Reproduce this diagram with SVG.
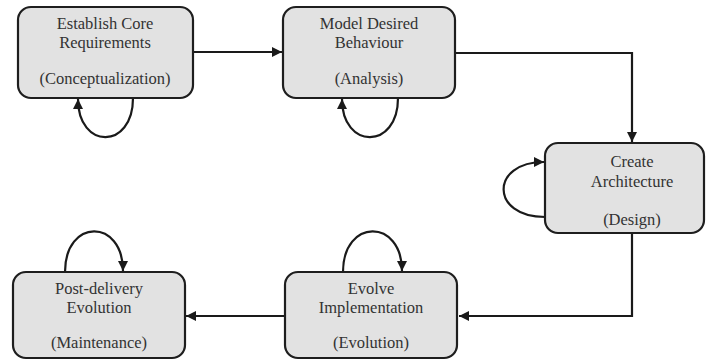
<svg xmlns="http://www.w3.org/2000/svg" width="708" height="362" viewBox="0 0 708 362">
  <style>
    .box { fill: #e2e2e2; stroke: #1e1e1e; stroke-width: 2.2; }
    .edge { fill: none; stroke: #1a1a1a; stroke-width: 2.2; }
  </style>
  <defs>
    <marker id="arrow" viewBox="0 0 10 10" refX="10" refY="5" markerUnits="userSpaceOnUse" markerWidth="11" markerHeight="10" orient="auto">
      <path d="M0,0 L10,5 L0,10 z" fill="#1a1a1a"/>
    </marker>
  </defs>
  <rect width="708" height="362" fill="#ffffff"/>

  <g id="connectors">
    <!-- main flow -->
    <path class="edge" d="M193,52 L282,52" marker-end="url(#arrow)"/>
    <path class="edge" d="M455,53 L632,53 L632,142" marker-end="url(#arrow)"/>
    <path class="edge" d="M632,233 L632,316 L459,316" marker-end="url(#arrow)"/>
    <path class="edge" d="M285,316 L186,316" marker-end="url(#arrow)"/>
    <!-- self loops -->
    <path class="edge" d="M133,98 C133,150 78,150 78,99" marker-end="url(#arrow)"/>
    <path class="edge" d="M398,98 C398,150 342,150 342,99" marker-end="url(#arrow)"/>
    <path class="edge" d="M545,217 C490,217 490,162 544,162" marker-end="url(#arrow)"/>
    <path class="edge" d="M343,272 C343,218 402,218 402,271" marker-end="url(#arrow)"/>
    <path class="edge" d="M65,272 C65,218 123,218 123,271" marker-end="url(#arrow)"/>
  </g>

  <g font-family="Liberation Serif, Tinos, Times New Roman, DejaVu Serif, serif" font-size="16.5" fill="#333333" text-anchor="middle">
    <g id="node-requirements">
      <rect class="box" x="18" y="7" width="175" height="91" rx="13"/>
      <text x="105" y="29">Establish Core</text>
      <text x="105" y="48">Requirements</text>
      <text x="105" y="84">(Conceptualization)</text>
    </g>

    <g id="node-behaviour">
      <rect class="box" x="283" y="7" width="172" height="91" rx="13"/>
      <text x="369" y="29">Model Desired</text>
      <text x="369" y="48">Behaviour</text>
      <text x="369" y="84">(Analysis)</text>
    </g>

    <g id="node-architecture">
      <rect class="box" x="545" y="143" width="159" height="90" rx="13"/>
      <text x="632" y="167">Create</text>
      <text x="632" y="187">Architecture</text>
      <text x="632" y="225">(Design)</text>
    </g>

    <g id="node-implementation">
      <rect class="box" x="285" y="272" width="172" height="86" rx="13"/>
      <text x="371" y="294">Evolve</text>
      <text x="371" y="313">Implementation</text>
      <text x="371" y="348">(Evolution)</text>
    </g>

    <g id="node-maintenance">
      <rect class="box" x="13" y="272" width="172" height="86" rx="13"/>
      <text x="99" y="294">Post-delivery</text>
      <text x="99" y="313">Evolution</text>
      <text x="99" y="348">(Maintenance)</text>
    </g>
  </g>
</svg>
